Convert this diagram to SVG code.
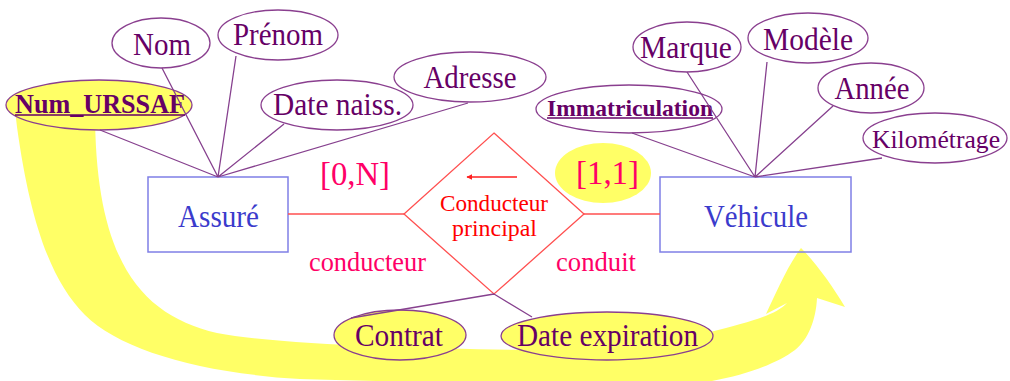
<svg xmlns="http://www.w3.org/2000/svg" width="1010" height="381" viewBox="0 0 1010 381">
<defs>
<style>
.attr{fill:#fff;stroke:#8a3f8f;stroke-width:1.3}
.key{fill:#ffff66;stroke:#8a3f8f;stroke-width:1.3}
.at{font-family:"Liberation Serif",serif;font-size:31px;fill:#660066;text-anchor:middle}
.bt{font-family:"Liberation Serif",serif;font-weight:bold;fill:#660066;text-anchor:middle}
.ul{stroke:#660066;stroke-width:1.5}
.ent{fill:none;stroke:#7f7fe6;stroke-width:1.5}
.et{font-family:"Liberation Serif",serif;font-size:31px;fill:#3b3bcc;text-anchor:middle}
.lbl{font-family:"Liberation Serif",serif;fill:#ff0066;text-anchor:middle}
.pl{stroke:#86408e;stroke-width:1.3;fill:none}
.rl{stroke:#ff5050;stroke-width:1.3;fill:none}
</style>
<marker id="ah" viewBox="0 0 10 10" refX="9" refY="5" markerWidth="6" markerHeight="6" orient="auto-start-reverse" markerUnits="userSpaceOnUse">
<path d="M0,0 L10,5 L0,10 Z" fill="#ff2020"/>
</marker>
</defs>
<rect width="1010" height="381" fill="#fff"/>
<g id="band">
<path fill="#ffff66" d="M95,110 C95,260 140,315 217,333 C280,345 420,348 520,350 C600,352 680,342 710,332 C750,322 776,315 787,303 L766,314 C775,295 788,265 801,248 C815,262 832,285 845,307 L817,298 C816,320 808,340 795,350 C775,365 740,377 700,383 C600,386 400,382 300,379 C200,373 120,350 85,315 C50,280 30,220 17,127 L15,110 Z"/>
</g>
<g id="node-num-urssaf"><ellipse class="key" cx="99" cy="105" rx="93" ry="25"/><text class="bt" x="100" y="113" font-size="28" textLength="170" lengthAdjust="spacingAndGlyphs">Num_URSSAF</text><line class="ul" x1="15" y1="115" x2="185" y2="115"/></g>
<g id="node-nom"><ellipse class="attr" cx="161" cy="43" rx="49" ry="25"/><text class="at" x="162" y="55" textLength="58" lengthAdjust="spacingAndGlyphs">Nom</text></g>
<g id="node-prenom"><ellipse class="attr" cx="278" cy="35" rx="60" ry="25"/><text class="at" x="278" y="45" textLength="90" lengthAdjust="spacingAndGlyphs">Prénom</text></g>
<g id="node-date-naiss"><ellipse class="attr" cx="337" cy="105" rx="76" ry="25"/><text class="at" x="337.5" y="115" textLength="129" lengthAdjust="spacingAndGlyphs">Date naiss.</text></g>
<g id="node-adresse"><ellipse class="attr" cx="470" cy="77" rx="76" ry="25"/><text class="at" x="470" y="88" textLength="93" lengthAdjust="spacingAndGlyphs">Adresse</text></g>
<g id="node-assure"><rect class="ent" x="148" y="177" width="140" height="75"/><text class="et" x="218.5" y="227" textLength="81" lengthAdjust="spacingAndGlyphs">Assuré</text></g>
<g id="node-immatriculation"><ellipse class="attr" cx="629" cy="109" rx="93" ry="24"/><text class="bt" x="630" y="116" font-size="24" textLength="166" lengthAdjust="spacingAndGlyphs">Immatriculation</text><line class="ul" x1="547" y1="118" x2="713" y2="118"/></g>
<g id="node-marque"><ellipse class="attr" cx="687" cy="47" rx="54" ry="25"/><text class="at" x="686" y="58" textLength="92" lengthAdjust="spacingAndGlyphs">Marque</text></g>
<g id="node-modele"><ellipse class="attr" cx="808" cy="38" rx="60" ry="25"/><text class="at" x="808" y="50" textLength="90" lengthAdjust="spacingAndGlyphs">Modèle</text></g>
<g id="node-annee"><ellipse class="attr" cx="871" cy="88" rx="53" ry="25"/><text class="at" x="872" y="99" textLength="75" lengthAdjust="spacingAndGlyphs">Année</text></g>
<g id="node-kilometrage"><ellipse class="attr" cx="935" cy="138" rx="72" ry="25"/><text class="at" x="936" y="148" style="font-size:26px" textLength="128" lengthAdjust="spacingAndGlyphs">Kilométrage</text></g>
<g id="node-vehicule"><rect class="ent" x="660" y="177" width="191" height="75"/><text class="et" x="756" y="227" textLength="104" lengthAdjust="spacingAndGlyphs">Véhicule</text></g>
<g id="node-card-11"><ellipse cx="603" cy="173" rx="48" ry="30" fill="#ffff66"/><text class="lbl" x="607.5" y="184" font-size="34" textLength="63" lengthAdjust="spacingAndGlyphs">[1,1]</text></g>
<g id="node-card-0n"><text class="lbl" x="355" y="185" font-size="34" textLength="70" lengthAdjust="spacingAndGlyphs">[0,N]</text></g>
<g id="node-contrat"><ellipse class="key" cx="400" cy="335" rx="66" ry="25"/><text class="at" x="399" y="346" textLength="88" lengthAdjust="spacingAndGlyphs">Contrat</text></g>
<g id="node-date-expiration"><ellipse class="key" cx="607" cy="336" rx="106" ry="24"/><text class="at" x="607.5" y="346" textLength="181" lengthAdjust="spacingAndGlyphs">Date expiration</text></g>
<g id="node-conducteur-principal">
<polygon points="494,133 584,214 494,294 404,214" fill="#fff" stroke="#ff5050" stroke-width="1.3"/>
<line x1="517" y1="177" x2="467" y2="177" stroke="#ff2020" stroke-width="1.3" marker-end="url(#ah)"/>
<text font-family="Liberation Serif,serif" font-size="24" fill="#ff0000" text-anchor="middle"><tspan x="494" y="211" textLength="108" lengthAdjust="spacingAndGlyphs">Conducteur</tspan><tspan x="494.5" y="236" textLength="85" lengthAdjust="spacingAndGlyphs">principal</tspan></text>
</g>
<g id="role-labels">
<text class="lbl" x="367.5" y="271" font-size="27" textLength="117" lengthAdjust="spacingAndGlyphs">conducteur</text>
<text class="lbl" x="596" y="271" font-size="27" textLength="80" lengthAdjust="spacingAndGlyphs">conduit</text>
</g>
<g id="connectors">
<path class="pl" d="M218,177 L100,130 M218,177 L162,68 M218,177 L236,56 M218,177 L284,124 M218,177 L468,103"/>
<path class="pl" d="M755,177 L632,133 M755,177 L687,72 M755,177 L767,62 M755,177 L833,106 M755,177 L882,158"/>
<path class="pl" d="M494,294 L351,318 M494,294 L532,317"/>
<path class="rl" d="M288,214 L404,214 M584,214 L660,214"/>
</g>
</svg>
